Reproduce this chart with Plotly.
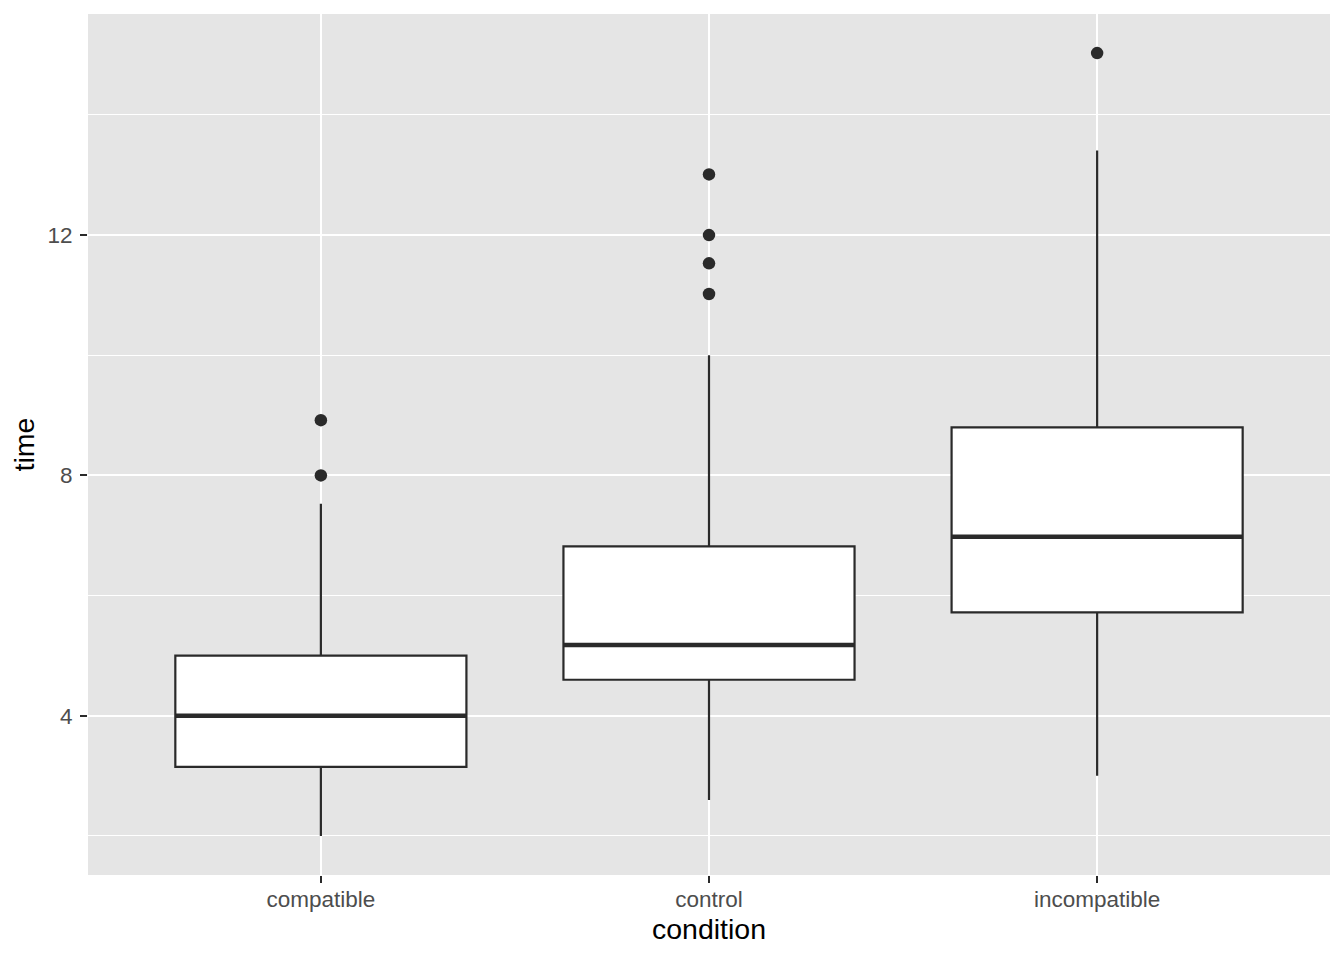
import plotly.graph_objects as go

categories = ["compatible", "control", "incompatible"]
q1 = [3.15, 4.6, 5.72]
median = [4.0, 5.18, 6.98]
q3 = [5.0, 6.82, 8.8]
lower_whisker = [2.0, 2.6, 3.0]
upper_whisker = [7.53, 10.0, 13.41]
outlier_cat = ["compatible", "compatible", "control", "control", "control", "control", "incompatible"]
outlier_val = [8.0, 8.92, 11.02, 11.53, 12.0, 13.01, 15.03]

ink = "#2a2a2a"
fig = go.Figure()
fig.add_trace(go.Box(
    x=categories, q1=q1, median=median, q3=q3,
    lowerfence=lower_whisker, upperfence=upper_whisker,
    width=0.75, fillcolor="white", line=dict(color=ink, width=2.2),
    boxpoints=False, whiskerwidth=0, showlegend=False, hoverinfo="skip",
))
# thick median line
fig.add_trace(go.Box(
    x=categories, q1=median, median=median, q3=median,
    lowerfence=median, upperfence=median,
    width=0.75, fillcolor="rgba(0,0,0,0)", line=dict(color=ink, width=4.5),
    boxpoints=False, whiskerwidth=0, showlegend=False, hoverinfo="skip",
))
fig.add_trace(go.Scatter(
    x=outlier_cat, y=outlier_val, mode="markers",
    marker=dict(color=ink, size=12.5), showlegend=False,
))

fig.update_layout(
    width=1336, height=952,
    margin=dict(l=80, r=14, t=6, b=85),
    paper_bgcolor="white", plot_bgcolor="#E5E5E5",
    boxmode="overlay",
    font=dict(family="Liberation Sans, Arial, sans-serif"),
)
fig.update_xaxes(
    type="category", range=[-0.6, 2.6],
    showgrid=True, gridcolor="white", gridwidth=2.2,
    ticks="outside", ticklen=7, tickwidth=2.2, tickcolor=ink,
    ticklabelstandoff=-3,
    tickfont=dict(size=22.5, color="#4D4D4D"),
    title=dict(text="condition", font=dict(size=28.5, color="black"), standoff=8),
    zeroline=False, showline=False,
)
fig.update_yaxes(
    range=[1.35, 15.68], tickvals=[4, 8, 12],
    showgrid=True, gridcolor="white", gridwidth=2.2,
    minor=dict(tickvals=[2, 6, 10, 14], showgrid=True, gridcolor="white", gridwidth=1.1, ticks=""),
    ticks="outside", ticklen=7, tickwidth=2.2, tickcolor=ink,
    ticklabelstandoff=3,
    tickfont=dict(size=22.5, color="#4D4D4D"),
    title=dict(text="time", font=dict(size=28.5, color="black"), standoff=6),
    zeroline=False, showline=False,
)
fig.write_html("out.html")
